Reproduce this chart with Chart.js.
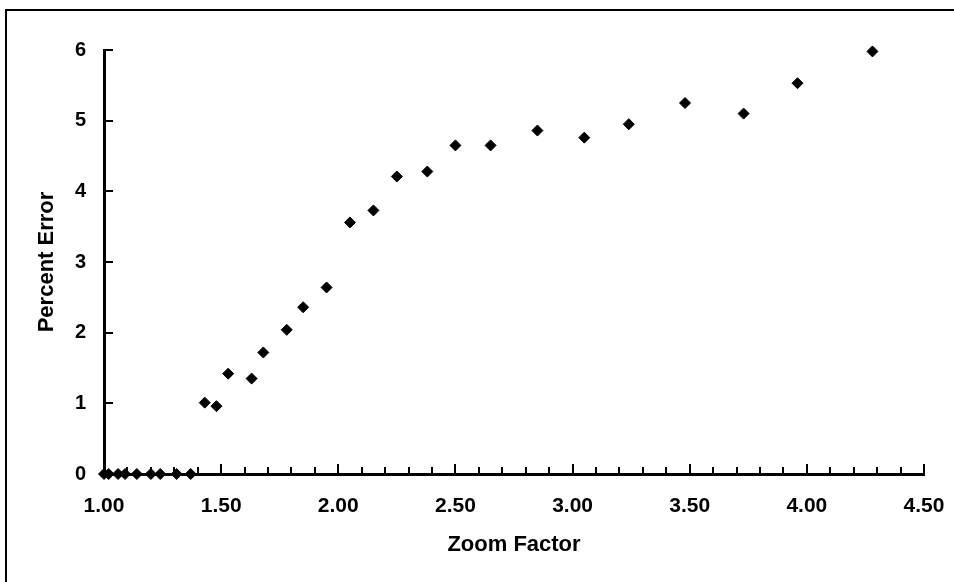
<!DOCTYPE html>
<html>
<head>
<meta charset="utf-8">
<script src="https://cdn.jsdelivr.net/npm/chart.js@4.4.1/dist/chart.umd.min.js"></script>
<style>
  html, body { margin: 0; padding: 0; background: #fff; }
  #wrap { position: relative; width: 954px; height: 582px; overflow: hidden; }
  #frame { position: absolute; left: 5px; top: 9px; right: -4px; bottom: -4px;
           border-left: 2px solid #000; border-top: 2px solid #000; }
  canvas { position: absolute; left: 0; top: 0; }
</style>
</head>
<body>
<div id="wrap">
  <div id="frame"></div>
  <canvas id="grafico" width="954" height="582"></canvas>
</div>
<script>
// values
const zoomFactor = [1.00, 1.02, 1.06, 1.09, 1.14, 1.20, 1.24, 1.31, 1.37,
    1.43, 1.48, 1.53, 1.63, 1.68, 1.78, 1.85, 1.95, 2.05, 2.15, 2.25, 2.38,
    2.50, 2.65, 2.85, 3.05, 3.24, 3.48, 3.73, 3.96, 4.28];
const percentError = [0, 0, 0, 0, 0, 0, 0, 0, 0,
    1.01, 0.96, 1.42, 1.35, 1.72, 2.04, 2.36, 2.64, 3.56, 3.73, 4.21, 4.28,
    4.65, 4.65, 4.86, 4.76, 4.95, 5.25, 5.10, 5.53, 5.98];

const xMin = 1.0, xMax = 4.5, xMajor = 0.5, xMinor = 0.1;
const yMin = 0, yMax = 6, yStep = 1;

const puntos = zoomFactor.map((z, i) => ({ x: z, y: percentError[i] }));

// tick marks point inward, minor every 0.1 on x
const marcasInternas = {
    id: 'marcasInternas',
    beforeDatasetsDraw(chart) {
        const { ctx, scales: { x, y } } = chart;
        ctx.save();
        ctx.strokeStyle = '#000';
        ctx.lineWidth = 2;
        ctx.beginPath();
        const n = Math.round((xMax - xMin) / xMinor);
        for (let i = 0; i <= n; i++) {
            const px = Math.round(x.getPixelForValue(xMin + i * xMinor));
            const len = i % Math.round(xMajor / xMinor) === 0 ? 10 : 7;
            ctx.moveTo(px, y.bottom);
            ctx.lineTo(px, y.bottom - len);
        }
        for (let v = yMin; v <= yMax; v += yStep) {
            const py = Math.round(y.getPixelForValue(v));
            ctx.moveTo(x.left, py);
            ctx.lineTo(x.left + 9, py);
        }
        ctx.stroke();
        ctx.restore();
    }
};

const fuente = "'Liberation Sans', Arial, sans-serif";

const ctx = document.getElementById('grafico').getContext('2d');
const chart = new Chart(ctx, {
    type: 'scatter',
    data: {
        datasets: [{
            label: 'Percent Error',
            data: puntos,
            clip: false,
            pointStyle: 'rectRot',
            pointRadius: 5.5,
            pointBorderWidth: 1,
            backgroundColor: '#000',
            borderColor: '#000'
        }]
    },
    options: {
        responsive: false,
        animation: false,
        layout: { padding: { top: 50, right: 30, left: 0, bottom: 0 } },
        plugins: {
            legend: { display: false },
            tooltip: { enabled: false }
        },
        scales: {
            x: {
                type: 'linear',
                min: xMin,
                max: xMax,
                grid: { display: false, drawTicks: false },
                border: { display: true, color: '#000', width: 3 },
                ticks: {
                    stepSize: xMajor,
                    padding: 20,
                    color: '#000',
                    font: { family: fuente, size: 21, weight: 'bold' },
                    callback: v => Number(v).toFixed(2)
                },
                title: {
                    display: true,
                    text: 'Zoom Factor',
                    color: '#000',
                    font: { family: fuente, size: 22, weight: 'bold' },
                    padding: { top: 0, bottom: 24 }
                },
                afterFit: scale => {
                    scale.height = 108;
                    scale.paddingLeft = 0;
                    scale.paddingRight = 0;
                }
            },
            y: {
                min: yMin,
                max: yMax,
                grid: { display: false, drawTicks: false },
                border: { display: true, color: '#000', width: 3 },
                ticks: {
                    stepSize: yStep,
                    padding: 18,
                    color: '#000',
                    font: { family: fuente, size: 20, weight: 'bold' }
                },
                title: {
                    display: true,
                    text: 'Percent Error',
                    color: '#000',
                    font: { family: fuente, size: 22, weight: 'bold' },
                    padding: { top: 34, bottom: 0 }
                },
                afterFit: scale => {
                    scale.width = 104;
                    scale.paddingTop = 0;
                    scale.paddingBottom = 0;
                }
            }
        }
    },
    plugins: [marcasInternas]
});
</script>
</body>
</html>
